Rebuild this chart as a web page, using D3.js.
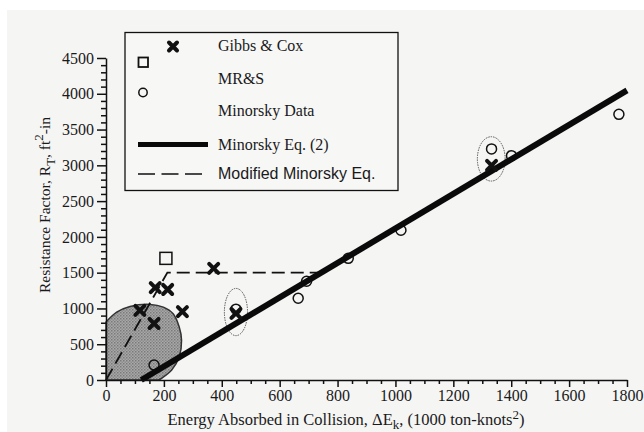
<!DOCTYPE html>
<html>
<head>
<meta charset="utf-8">
<script src="https://cdn.jsdelivr.net/npm/d3@7"></script>
<style>
  body { margin: 0; background: #ffffff; }
  svg { display: block; }
</style>
</head>
<body>
<div id="chart"></div>
<script>
// data: [energy (1000 ton-knots^2), resistance factor (ft^2-in)]
const gibbsCox = [[117, 972], [166, 790], [170, 1290], [213, 1265], [264, 955], [372, 1560], [449, 930], [1332, 3000]];
const mrs = [[207, 1700]];
const minorskyData = [[166, 210], [449, 990], [664, 1143], [693, 1380], [837, 1700], [1019, 2093], [1332, 3230], [1401, 3135], [1772, 3713]];
// Minorsky Eq. (2): dE = 414.5 R + 121900
const minorskyEq = [[121.9, 0], [1800, (1800000 - 121900) / 414.5]];
const modifiedEq = [[0, 0], [212, 1500], [744, 1500]];
// shaded region outline (curved part, from the y axis round to the x axis)
const blob = [[0, 810], [37, 949], [83, 1028], [152, 1056], [198, 1018], [232, 926], [253, 740], [261, 556], [253, 324], [227, 139], [192, 24], [181, 0]];
const groups = [[449, 950, 40, 330], [1331, 3090, 48, 310]]; // cx, cy, half-width (E), half-height (R)

const xMajor = d3.range(0, 1801, 200);
const xMinor = d3.range(0, 1801, 50).filter(v => v % 200);
const yMajor = d3.range(0, 4501, 500);
const yMinor = d3.range(0, 4501, 100).filter(v => v % 500);

const width = 644, height = 432;
const serif = "'Liberation Serif', 'Times New Roman', serif";
const sans = "'Liberation Sans', Arial, sans-serif";

const svg = d3.select("#chart").append("svg")
    .attr("width", width)
    .attr("height", height);

// scanned page background
svg.append("rect")
    .attr("x", 7).attr("y", 10)
    .attr("width", width - 7).attr("height", height - 10)
    .attr("fill", "#f5f5f4");

const x = d3.scaleLinear().domain([0, 1800]).range([106, 627]);
const y = d3.scaleLinear().domain([0, 4500]).range([380, 58]);

// halftone pattern for the shaded region
const defs = svg.append("defs");
const pat = defs.append("pattern")
    .attr("id", "dots")
    .attr("width", 3).attr("height", 3)
    .attr("patternUnits", "userSpaceOnUse");
pat.append("rect").attr("width", 3).attr("height", 3).attr("fill", "#a8a8a8");
pat.append("rect").attr("width", 1.5).attr("height", 1.5).attr("fill", "#7a7a7a");
pat.append("rect").attr("x", 1.5).attr("y", 1.5).attr("width", 1.5).attr("height", 1.5).attr("fill", "#8c8c8c");

const line = d3.line().x(d => x(d[0])).y(d => y(d[1]));

// shaded region: curved edge, then straight back along the axes
const curved = d3.line().x(d => x(d[0])).y(d => y(d[1])).curve(d3.curveCatmullRom);
svg.append("path")
    .datum(blob)
    .attr("d", d => curved(d) + `L${x(0)},${y(0)}Z`)
    .attr("fill", "url(#dots)")
    .attr("stroke", "#333")
    .attr("stroke-width", 1.5);

// circled groups
svg.selectAll("ellipse.group")
    .data(groups)
    .enter()
    .append("ellipse")
    .attr("class", "group")
    .attr("cx", d => x(d[0]))
    .attr("cy", d => y(d[1]))
    .attr("rx", d => x(d[2]) - x(0))
    .attr("ry", d => y(0) - y(d[3]))
    .attr("fill", "none")
    .attr("stroke", "#555")
    .attr("stroke-width", 1)
    .attr("stroke-dasharray", "1.5,1");

// modified Minorsky equation
svg.append("path")
    .datum(modifiedEq)
    .attr("d", line)
    .attr("fill", "none")
    .attr("stroke", "#111")
    .attr("stroke-width", 1.8)
    .attr("stroke-dasharray", "13,6");

// Minorsky data circles
svg.selectAll("circle.data")
    .data(minorskyData)
    .enter()
    .append("circle")
    .attr("class", "data")
    .attr("cx", d => x(d[0]))
    .attr("cy", d => y(d[1]))
    .attr("r", 5)
    .attr("fill", "none")
    .attr("stroke", "#111")
    .attr("stroke-width", 1.5);

// Minorsky Eq. (2)
svg.append("path")
    .datum(minorskyEq)
    .attr("d", line)
    .attr("fill", "none")
    .attr("stroke", "#0a0a0a")
    .attr("stroke-width", 6);

// Gibbs & Cox crosses
const cross = s => `M${-s},${-s}L${s},${s}M${-s},${s}L${s},${-s}`;
svg.selectAll("path.gc")
    .data(gibbsCox)
    .enter()
    .append("path")
    .attr("class", "gc")
    .attr("transform", d => `translate(${x(d[0])},${y(d[1])})`)
    .attr("d", cross(4.5))
    .attr("stroke", "#111")
    .attr("stroke-width", 4)
    .attr("stroke-linecap", "round");

// MR&S squares
svg.selectAll("rect.mrs")
    .data(mrs)
    .enter()
    .append("rect")
    .attr("class", "mrs")
    .attr("x", d => x(d[0]) - 6)
    .attr("y", d => y(d[1]) - 6)
    .attr("width", 12)
    .attr("height", 12)
    .attr("fill", "none")
    .attr("stroke", "#111")
    .attr("stroke-width", 1.5);

// axes
function styleAxis(g) {
    g.selectAll("text")
        .attr("font-family", serif)
        .attr("font-size", 16)
        .attr("fill", "#1a1a1a");
    g.selectAll("line, path").attr("stroke", "#111").attr("stroke-width", 1.5);
}

svg.append("g")
    .attr("transform", `translate(0,${y(0)})`)
    .call(d3.axisBottom(x).tickValues(xMajor).tickFormat(d3.format("d"))
        .tickSizeInner(7).tickSizeOuter(0).tickPadding(3))
    .call(styleAxis);
svg.append("g")
    .attr("transform", `translate(0,${y(0)})`)
    .call(d3.axisBottom(x).tickValues(xMinor).tickSize(4).tickFormat(""))
    .call(g => g.select(".domain").remove())
    .call(styleAxis);

svg.append("g")
    .attr("transform", `translate(${x(0)},0)`)
    .call(d3.axisLeft(y).tickValues(yMajor).tickFormat(d3.format("d"))
        .tickSizeInner(9).tickSizeOuter(0).tickPadding(3))
    .call(styleAxis);
svg.append("g")
    .attr("transform", `translate(${x(0)},0)`)
    .call(d3.axisLeft(y).tickValues(yMinor).tickSize(5).tickFormat(""))
    .call(g => g.select(".domain").remove())
    .call(styleAxis);

// axis titles
const xt = svg.append("text")
    .attr("x", 346)
    .attr("y", 425)
    .attr("text-anchor", "middle")
    .attr("font-family", serif)
    .attr("font-size", 16.5)
    .attr("fill", "#1a1a1a");
xt.append("tspan").text("Energy Absorbed in Collision, \u0394E");
xt.append("tspan").attr("dy", 4).attr("font-size", 13).text("k");
xt.append("tspan").attr("dy", -4).text(", (1000 ton-knots");
xt.append("tspan").attr("dy", -6).attr("font-size", 13).text("2");
xt.append("tspan").attr("dy", 6).text(")");

const yt = svg.append("text")
    .attr("transform", "translate(50,205) rotate(-90)")
    .attr("text-anchor", "middle")
    .attr("font-family", serif)
    .attr("font-size", 15.5)
    .attr("fill", "#1a1a1a");
yt.append("tspan").text("Resistance Factor, R");
yt.append("tspan").attr("dy", 5).attr("font-size", 13).text("T");
yt.append("tspan").attr("dy", -5).text(", ft");
yt.append("tspan").attr("dy", -7).attr("font-size", 13).text("2");
yt.append("tspan").attr("dy", 7).text("-in");

// legend
const legend = svg.append("g");
legend.append("rect")
    .attr("x", 125).attr("y", 32.5)
    .attr("width", 273).attr("height", 158)
    .attr("fill", "#f7f7f6")
    .attr("stroke", "#111")
    .attr("stroke-width", 1.3);

legend.append("path")
    .attr("transform", "translate(173,46.5)")
    .attr("d", cross(4))
    .attr("stroke", "#111").attr("stroke-width", 4).attr("stroke-linecap", "round");
legend.append("rect")
    .attr("x", 138.5).attr("y", 57.5).attr("width", 9.5).attr("height", 9.5)
    .attr("fill", "none").attr("stroke", "#111").attr("stroke-width", 1.8);
legend.append("circle")
    .attr("cx", 143).attr("cy", 92.5).attr("r", 4.2)
    .attr("fill", "none").attr("stroke", "#111").attr("stroke-width", 1.5);
legend.append("line")
    .attr("x1", 138).attr("x2", 208).attr("y1", 144.5).attr("y2", 144.5)
    .attr("stroke", "#0a0a0a").attr("stroke-width", 5);
legend.append("line")
    .attr("x1", 138).attr("x2", 202).attr("y1", 174).attr("y2", 174)
    .attr("stroke", "#111").attr("stroke-width", 1.3).attr("stroke-dasharray", "17,6.5");

const legendLabels = [
    ["Gibbs & Cox", 51, serif],
    ["MR&S", 84, serif],
    ["Minorsky Data", 116, serif],
    ["Minorsky Eq. (2)", 150, serif],
    ["Modified Minorsky Eq.", 179, sans]
];
legend.selectAll("text")
    .data(legendLabels)
    .enter()
    .append("text")
    .attr("x", 218)
    .attr("y", d => d[1])
    .attr("font-family", d => d[2])
    .attr("font-size", 16)
    .attr("fill", "#1a1a1a")
    .text(d => d[0]);
</script>
</body>
</html>
